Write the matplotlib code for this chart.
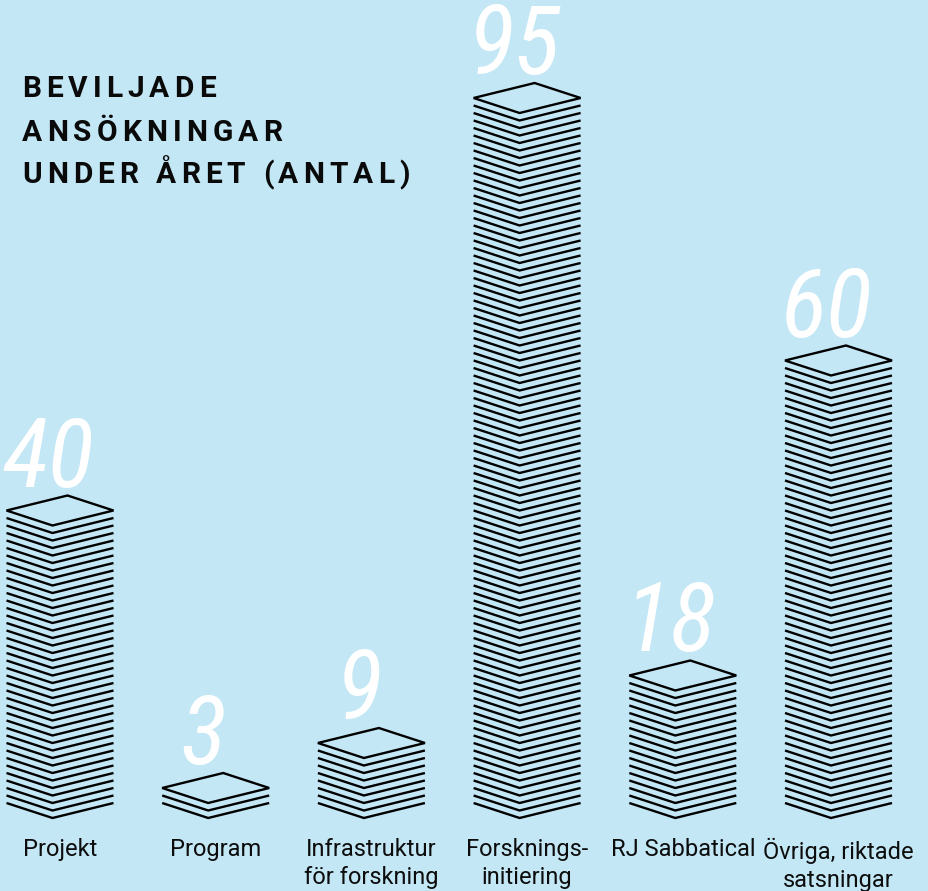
import matplotlib
matplotlib.use('Agg')
import matplotlib.pyplot as plt
from matplotlib import font_manager as fm
from matplotlib.patches import Polygon
from matplotlib.font_manager import FontProperties

# ---------------- data ----------------
categories = ['Projekt', 'Program', 'Infrastruktur\nför forskning',
              'Forsknings-\ninitiering', 'RJ Sabbatical', 'Övriga, riktade\nsatsningar']
values = [40, 3, 9, 95, 18, 60]
title_lines = ['BEVILJADE', 'ANSÖKNINGAR', 'UNDER ÅRET (ANTAL)']

# ---------------- layout ----------------
W, H, DPI = 929, 891, 100
BG = '#C3E7F5'

names = {f.name for f in fm.fontManager.ttflist}


def pick(cands, default='DejaVu Sans'):
    for c in cands:
        if c in names:
            return c
    return default


num_family = pick(['Roboto Condensed', 'Liberation Sans Narrow', 'Roboto', 'Open Sans'])
label_family = pick(['Roboto', 'Inter', 'Liberation Sans'])
title_family = pick(['Roboto', 'Inter', 'Liberation Sans'])

fig = plt.figure(figsize=(W / DPI, H / DPI), dpi=DPI, facecolor=BG)
ax = fig.add_axes([0, 0, 1, 1])
ax.set_facecolor(BG)

SLOT = 155.7          # px per category slot
X0 = 60.0             # px of first category centre
PX_PER_SHEET = 7.5
BASE = 803            # px of bottom sheet's left vertex
ax.set_xlim(-X0 / SLOT, (W - X0) / SLOT)
ax.set_ylim((BASE - H) / PX_PER_SHEET, BASE / PX_PER_SHEET)
ax.axis('off')

sheet_w = 107 / SLOT
top_off = 61 / SLOT
bot_off = 46 / SLOT
half_h = 15 / PX_PER_SHEET
LW = 1.7


def py(pix):
    return (BASE - pix) / PX_PER_SHEET


for i, n in enumerate(values):
    left = i - 53.5 / SLOT
    for k in range(n - 1):
        ax.plot([left, left + bot_off, left + sheet_w], [k, k - half_h, k],
                color='black', lw=LW, solid_joinstyle='miter', solid_capstyle='butt')
    kt = n - 1
    poly = Polygon([[left, kt], [left + top_off, kt + half_h], [left + sheet_w, kt],
                    [left + bot_off, kt - half_h]], closed=True, fill=False,
                   edgecolor='black', lw=LW, joinstyle='miter')
    ax.add_patch(poly)
    ax.text(i - 12 / SLOT, kt + half_h + 9 / PX_PER_SHEET, str(n), ha='center',
            va='baseline', color='white', fontsize=69, family=num_family,
            style='italic', weight='normal')

for i, cat in enumerate(categories):
    ax.text(i, py(838), cat, ha='center', va='top', color='#0d0d0d',
            fontsize=17, family=label_family, linespacing=1.28)

# ---------------- tracked title ----------------
fig.canvas.draw()
renderer = fig.canvas.get_renderer()
fp = FontProperties(family=title_family, weight='bold', size=21.5)


def text_w(s):
    t = fig.text(0, 0, s, fontproperties=fp)
    w = t.get_window_extent(renderer).width
    t.remove()
    return w


xx = text_w('XX')


def adv(c):
    return text_w('X' + c + 'X') - xx


# tracking fitted so the longest line spans the target width
longest = title_lines[-1]
nat = sum(adv(c) for c in longest)
track = (388 - nat) / (len(longest) - 1)

baselines = [97, 141, 183]
for line, b in zip(title_lines, baselines):
    x = 22
    for c in line:
        if c != ' ':
            fig.text(x / W, 1 - b / H, c, fontproperties=fp, color='#0a0a0a',
                     ha='left', va='baseline')
        x += adv(c) + track

fig.savefig('out.png', dpi=DPI, facecolor=BG)
